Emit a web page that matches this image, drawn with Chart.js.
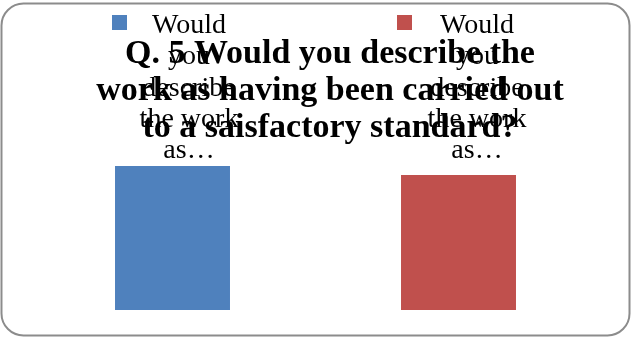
<!DOCTYPE html>
<html lang="en">
<head>
    <meta charset="UTF-8">
    <title>Q. 5</title>
    <style>
        body {
            margin: 0;
            background: #ffffff;
        }
        .chart-container {
            width: 632px;
            height: 338px;
        }
    </style>
    <script src="https://cdn.jsdelivr.net/npm/chart.js"></script>
</head>
<body>
    <div class="chart-container">
        <canvas id="q5-chart" width="632" height="338"></canvas>
    </div>

    <script>
        // Data
        const categories = ['Q5'];
        const seriesNames = [
            ['Would', 'you', 'describe', 'the work', 'as…'],
            ['Would', 'you', 'describe', 'the work', 'as…']
        ];
        const seriesValues = [[16], [15]];
        const seriesColors = ['#4F81BD', '#C0504D'];
        const titleLines = [
            'Q. 5 Would you describe the',
            'work as having been carried out',
            'to a saisfactory standard?'
        ];

        const serif = "'Liberation Serif', 'DejaVu Serif', serif";

        // rounded frame behind everything
        const frame = {
            id: 'frame',
            beforeDraw(chart) {
                const ctx = chart.ctx;
                ctx.save();
                ctx.beginPath();
                ctx.roundRect(1.5, 3.5, 628, 332, 22);
                ctx.lineWidth = 2;
                ctx.strokeStyle = '#8c8c8c';
                ctx.stroke();
                ctx.restore();
            }
        };

        // legend + title drawn on top, overlapping like the original
        const overlay = {
            id: 'overlay',
            afterDraw(chart) {
                const ctx = chart.ctx;
                ctx.save();
                const boxX = [112, 397];
                const textX = [189, 477];
                chart.data.datasets.forEach((ds, i) => {
                    ctx.fillStyle = ds.backgroundColor;
                    ctx.fillRect(boxX[i], 15, 15, 15);
                    ctx.fillStyle = '#000';
                    ctx.font = `28px ${serif}`;
                    ctx.textAlign = 'center';
                    ctx.textBaseline = 'alphabetic';
                    ds.label.forEach((line, j) => {
                        ctx.fillText(line, textX[i], 33 + j * 31.25);
                    });
                });

                ctx.font = `bold 34px ${serif}`;
                ctx.fillStyle = '#000';
                ctx.textAlign = 'center';
                titleLines.forEach((line, j) => {
                    ctx.fillText(line, 330, 63 + j * 37);
                });
                ctx.restore();
            }
        };

        new Chart(document.getElementById('q5-chart'), {
            type: 'bar',
            data: {
                labels: categories,
                datasets: seriesNames.map((name, i) => ({
                    label: name,
                    data: seriesValues[i],
                    backgroundColor: seriesColors[i],
                    borderWidth: 0,
                    categoryPercentage: 1,
                    barPercentage: 0.402
                }))
            },
            options: {
                responsive: false,
                animation: false,
                layout: {
                    padding: { left: 29.5, right: 30.5, top: 148, bottom: 28 }
                },
                scales: {
                    x: { display: false },
                    y: { display: false, min: 0, max: 18 }
                },
                plugins: {
                    legend: { display: false },
                    title: { display: false },
                    tooltip: { enabled: false }
                }
            },
            plugins: [frame, overlay]
        });
    </script>
</body>
</html>
